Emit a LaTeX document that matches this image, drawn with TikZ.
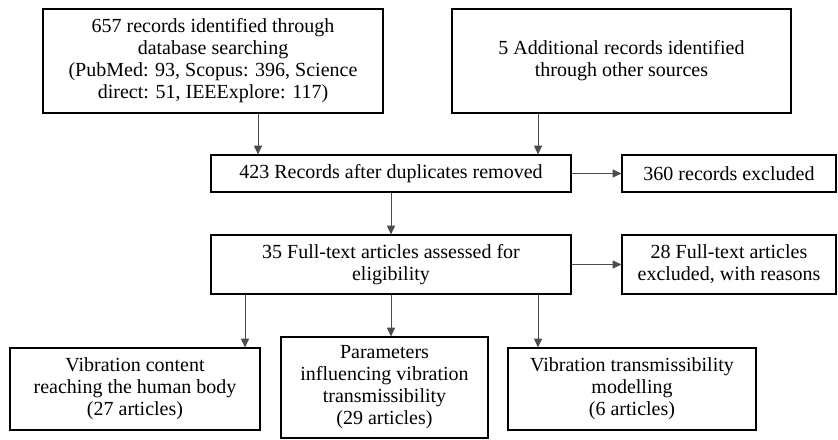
\documentclass[tikz,border=0pt]{standalone}
\usepackage{fontspec}
\setmainfont{Liberation Serif}
\usetikzlibrary{arrows.meta}

\begin{document}
\begin{tikzpicture}[
    x=0.75pt, y=-0.75pt,
    box/.style={draw, line width=0.9pt, align=center, inner sep=0pt,
                font=\fontsize{15}{16.5}\selectfont},
    link/.style={-{Triangle[length=6.5pt,width=6pt]}, line width=0.6pt, draw=black!70, fill=black},
   ]
\useasboundingbox (0,0) rectangle (838,439);

\node[box, minimum width=255pt, minimum height=78pt] (db) at (213,61)
    {657 records identified through\\ database searching\\
     (PubMed: 93, Scopus: 396, Science\\ direct: 51, IEEExplore: 117)};
\node[box, minimum width=254.25pt, minimum height=78pt] (other) at (621.5,61)
    {5 Additional records identified\\ through other sources};

\node[box, minimum width=270pt, minimum height=27.75pt] (dedup) at (391,173.5)
    {423 Records after duplicates removed};
\node[box, minimum width=160.5pt, minimum height=27.75pt] (excl) at (729,173.5)
    {360 records excluded};

\node[box, minimum width=270pt, minimum height=44.25pt] (full) at (391,264.5)
    {35 Full-text articles assessed for\\ eligibility};
\node[box, minimum width=160.5pt, minimum height=44.25pt] (fullexcl) at (729,264.5)
    {28 Full-text articles\\ excluded, with reasons};

\node[box, minimum width=187.5pt, minimum height=61.5pt] (content) at (135,389)
    {Vibration content\\ reaching the human body\\ (27 articles)};
\node[box, minimum width=155.25pt, minimum height=75.75pt] (params) at (384.5,387.5)
    {Parameters\\ influencing vibration\\ transmissibility\\ (29 articles)};
\node[box, minimum width=186pt, minimum height=61.5pt] (model) at (632,389)
    {Vibration transmissibility\\ modelling\\ (6 articles)};

\draw[link] ([xshift=33.75pt]db.south) coordinate (db-out) -- (db-out |- dedup.north);
\draw[link] ([xshift=-62.6pt]other.south) coordinate (other-out) -- (other-out |- dedup.north);
\draw[link] (dedup.east) -- (excl.west);
\draw[link] (dedup.south) -- (full.north);
\draw[link] (full.east) -- (fullexcl.west);

\draw[link] ([xshift=-109.5pt]full.south) coordinate (full-l) -- (full-l |- content.north);
\draw[link] (full.south) -- (full.south |- params.north);
\draw[link] ([xshift=110.25pt]full.south) coordinate (full-r) -- (full-r |- model.north);

\end{tikzpicture}
\end{document}
